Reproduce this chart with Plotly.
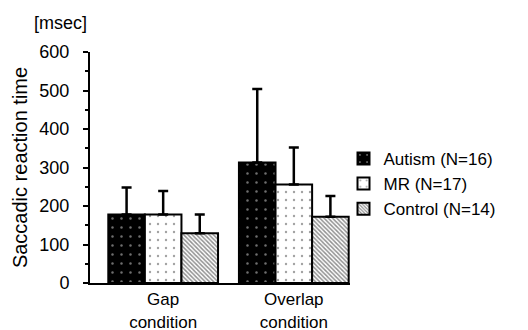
import plotly.graph_objects as go

categories = ["Gap<br>condition", "Overlap<br>condition"]
series_names = ["Autism (N=16)", "MR (N=17)", "Control (N=14)"]
autism_mean = [178, 313]
autism_upper = [248, 504]
mr_mean = [178, 256]
mr_upper = [239, 352]
control_mean = [129, 172]
control_upper = [178, 226]
y_ticks = [0, 100, 200, 300, 400, 500, 600]

means = [autism_mean, mr_mean, control_mean]
uppers = [autism_upper, mr_upper, control_upper]
styles = [
    dict(color="black", pattern=dict(shape=".", fgcolor="#dddddd", bgcolor="black", size=9, solidity=0.06)),
    dict(color="white", pattern=dict(shape=".", fgcolor="#444444", bgcolor="white", size=8, solidity=0.07)),
    dict(color="#888888", pattern=dict(shape="\\", fgcolor="#222222", bgcolor="white", size=3, solidity=0.5)),
]

FONT = "Liberation Sans, Arial, sans-serif"
fig = go.Figure()
for name, m, u, st in zip(series_names, means, uppers, styles):
    fig.add_trace(go.Bar(
        x=categories, y=m, name=name,
        marker=dict(color=st["color"], pattern=st["pattern"],
                    line=dict(color="black", width=2)),
        error_y=dict(type="data", symmetric=False,
                     array=[uu - mm for uu, mm in zip(u, m)],
                     arrayminus=[0] * len(m),
                     color="black", thickness=2.5, width=5),
    ))

fig.update_layout(
    width=528, height=330,
    margin=dict(l=90, r=178, t=52, b=47, autoexpand=False),
    paper_bgcolor="white", plot_bgcolor="white",
    barmode="group", bargap=0.16, bargroupgap=0,
    font=dict(family=FONT, size=17, color="black"),
    showlegend=True,
    legend=dict(x=0.975, y=0.615, xanchor="left", yanchor="top",
                font=dict(family=FONT, size=17, color="black"),
                bgcolor="rgba(0,0,0,0)", tracegroupgap=0),
    annotations=[dict(text="[msec]", xref="paper", yref="paper",
                      x=-0.115, y=1.0, xanchor="center", yanchor="middle",
                      yshift=29, showarrow=False,
                      font=dict(family=FONT, size=18, color="black"))],
)
fig.update_xaxes(
    type="category", range=[-0.56, 1.43],
    showline=True, linecolor="black", linewidth=2,
    ticks="", ticklen=0, showgrid=False, zeroline=False,
    ticklabelstandoff=0,
    tickfont=dict(family=FONT, size=17),
)
fig.update_yaxes(
    range=[0, 600], tickvals=y_ticks,
    showline=True, linecolor="black", linewidth=2,
    ticks="outside", ticklen=5, tickwidth=2, tickcolor="black",
    minor=dict(dtick=50, ticks="outside", ticklen=3, tickwidth=1.5, tickcolor="black"),
    showgrid=False, zeroline=False,
    ticklabelstandoff=10,
    tickfont=dict(family=FONT, size=18),
    title=dict(text="Saccadic reaction time", font=dict(family=FONT, size=20), standoff=6),
)

fig.write_html("out.html", config={"displayModeBar": False},
               post_script="document.body.style.margin='0';")
